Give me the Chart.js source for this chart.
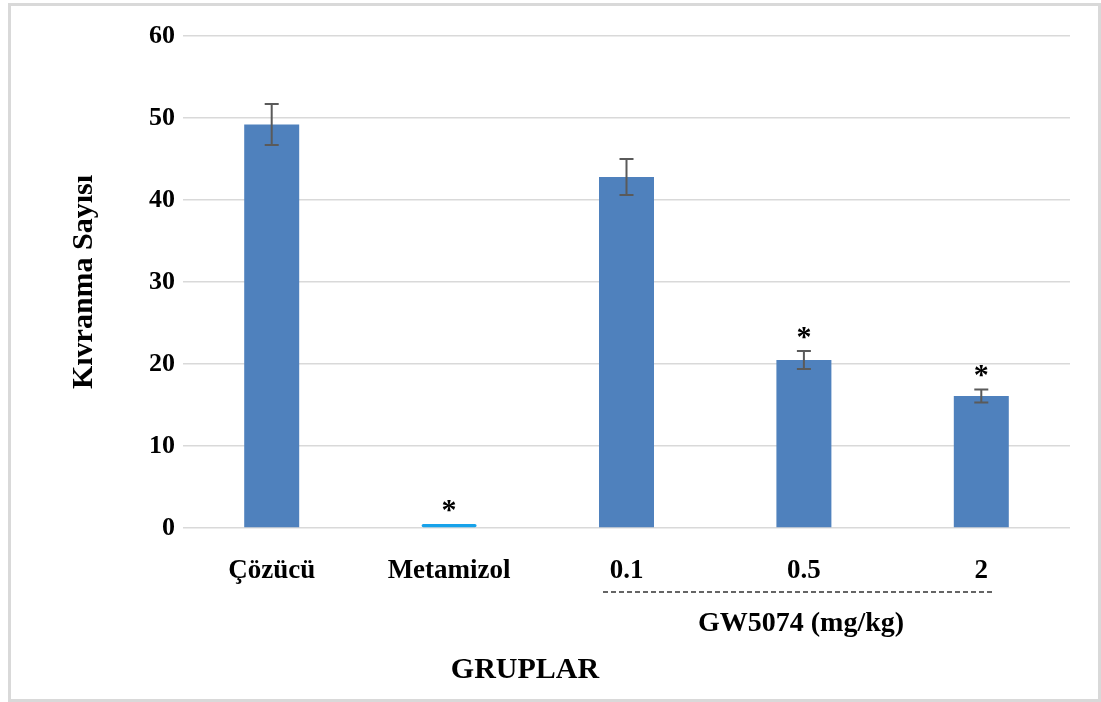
<!DOCTYPE html>
<html>
<head>
<meta charset="utf-8">
<script src="https://cdn.jsdelivr.net/npm/chart.js@4.4.0/dist/chart.umd.min.js"></script>
<style>
    html, body { margin: 0; padding: 0; background: #fff; }
    #wrap { width: 1101px; height: 702px; position: relative; }
</style>
</head>
<body>
<div id="wrap"><canvas id="chart"></canvas></div>
<script>
// Data
const groups = ['Çözücü', 'Metamizol', '0.1', '0.5', '2'];
const counts = [49.2, 0.5, 42.8, 20.5, 16.1];
const errors = [2.5, 0, 2.2, 1.1, 0.8];
const significant = [false, true, false, true, true];
const yTicks = [0, 10, 20, 30, 40, 50, 60];

const barColors = ['#4f81bd', '#17a2ea', '#4f81bd', '#4f81bd', '#4f81bd'];
const serif = '"Liberation Serif", "Times New Roman", serif';

// Error bars, asterisks, frame and the GW5074 bracket
const extras = {
    id: 'extras',
    afterDatasetsDraw(chart) {
        const ctx = chart.ctx;
        const x = chart.scales.x;
        const y = chart.scales.y;
        ctx.save();

        // error bars
        ctx.strokeStyle = '#5a5a5a';
        ctx.lineWidth = 2;
        counts.forEach((v, i) => {
            if (!errors[i]) return;
            const cx = x.getPixelForValue(i);
            const top = y.getPixelForValue(v + errors[i]);
            const bot = y.getPixelForValue(v - errors[i]);
            ctx.beginPath();
            ctx.moveTo(cx, top); ctx.lineTo(cx, bot);
            ctx.moveTo(cx - 7, top); ctx.lineTo(cx + 7, top);
            ctx.moveTo(cx - 7, bot); ctx.lineTo(cx + 7, bot);
            ctx.stroke();
        });

        // asterisks
        ctx.fillStyle = '#000';
        ctx.font = 'bold 30px ' + serif;
        ctx.textAlign = 'center';
        ctx.textBaseline = 'middle';
        counts.forEach((v, i) => {
            if (!significant[i]) return;
            const cx = x.getPixelForValue(i);
            const top = y.getPixelForValue(v + errors[i]);
            ctx.fillText('*', cx, top - 13);
        });

        // dashed bracket under the GW5074 doses
        ctx.strokeStyle = '#333';
        ctx.lineWidth = 1.5;
        ctx.setLineDash([5, 3]);
        ctx.beginPath();
        ctx.moveTo(603, 592);
        ctx.lineTo(995, 592);
        ctx.stroke();
        ctx.setLineDash([]);

        ctx.font = 'bold 28px ' + serif;
        ctx.fillText('GW5074 (mg/kg)', 801, 624);

        ctx.font = 'bold 30px ' + serif;
        ctx.fillText('GRUPLAR', 525, 670);

        // outer frame
        ctx.strokeStyle = '#d9d9d9';
        ctx.lineWidth = 3;
        ctx.strokeRect(9.5, 4.5, 1090, 696);

        ctx.restore();
    }
};

new Chart(document.getElementById('chart'), {
    type: 'bar',
    data: {
        labels: groups,
        datasets: [{
            data: counts,
            backgroundColor: barColors,
            borderWidth: 0,
            borderRadius: (c) => c.dataIndex === 1 ? 3 : 0,
            borderSkipped: false,
            categoryPercentage: 1,
            barPercentage: 0.31
        }]
    },
    options: {
        responsive: true,
        maintainAspectRatio: false,
        animation: false,
        layout: { padding: { left: 0, right: 31, top: 36, bottom: 0 } },
        plugins: {
            legend: { display: false },
            tooltip: { enabled: false }
        },
        scales: {
            x: {
                grid: { display: false },
                border: { display: false },
                ticks: {
                    color: '#000',
                    padding: 19,
                    font: { family: serif, size: 27, weight: 'bold' }
                },
                afterFit: (s) => { s.height = 702 - 528; }
            },
            y: {
                min: 0,
                max: 60,
                afterBuildTicks: (s) => { s.ticks = yTicks.map(v => ({ value: v })); },
                grid: { color: '#d9d9d9', lineWidth: 1.5, drawTicks: false },
                border: { display: false },
                ticks: {
                    color: '#000',
                    padding: 8,
                    font: { family: serif, size: 26, weight: 'bold' }
                },
                title: {
                    display: true,
                    text: 'Kıvranma Sayısı',
                    color: '#000',
                    padding: { top: 66, bottom: 0 },
                    font: { family: serif, size: 30, weight: 'bold' }
                },
                afterFit: (s) => { s.width = 183; }
            }
        }
    },
    plugins: [extras]
});
</script>
</body>
</html>
